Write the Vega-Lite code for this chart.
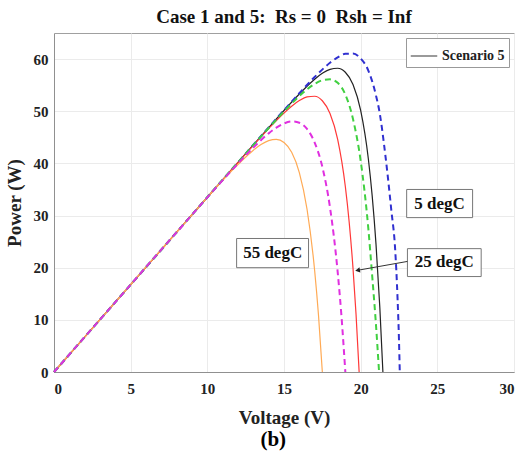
{
  "$schema": "https://vega.github.io/schema/vega-lite/v6.json",
  "autosize": {"type": "none"},
  "padding": {"left": 54, "top": 33, "right": 11, "bottom": 84},
  "width": 460,
  "height": 339,
  "background": "white",
  "title": {"text": "Case 1 and 5:\u00a0 Rs = 0\u00a0 Rsh = Inf", "font": "Liberation Serif", "fontSize": 19, "fontWeight": "bold", "color": "#111111", "offset": 6},
  "datasets": {
    "curves": [
      {"s": "C1_5", "v": 0, "p": 0}, {"s": "C1_5", "v": 4, "p": 13.4}, {"s": "C1_5", "v": 8, "p": 26.8}, {"s": "C1_5", "v": 12, "p": 40.2}, {"s": "C1_5", "v": 14, "p": 46.88}, {"s": "C1_5", "v": 15, "p": 50.2}, {"s": "C1_5", "v": 16, "p": 53.45}, {"s": "C1_5", "v": 17, "p": 56.57}, {"s": "C1_5", "v": 18, "p": 59.29}, {"s": "C1_5", "v": 18.5, "p": 60.34}, {"s": "C1_5", "v": 19, "p": 61.0}, {"s": "C1_5", "v": 19.5, "p": 61.05}, {"s": "C1_5", "v": 20, "p": 60.1}, {"s": "C1_5", "v": 20.5, "p": 57.8}, {"s": "C1_5", "v": 21, "p": 53.0}, {"s": "C1_5", "v": 21.25, "p": 49.5}, {"s": "C1_5", "v": 21.5, "p": 44.2}, {"s": "C1_5", "v": 21.75, "p": 38.0}, {"s": "C1_5", "v": 22, "p": 31.0}, {"s": "C1_5", "v": 22.25, "p": 23.5}, {"s": "C1_5", "v": 22.4, "p": 14.5}, {"s": "C1_5", "v": 22.5, "p": 6.0}, {"s": "C1_5", "v": 22.55, "p": 0},
      {"s": "Scenario 5", "v": 0, "p": 0}, {"s": "Scenario 5", "v": 4, "p": 13.4}, {"s": "Scenario 5", "v": 8, "p": 26.8}, {"s": "Scenario 5", "v": 12, "p": 40.2}, {"s": "Scenario 5", "v": 14, "p": 46.86}, {"s": "Scenario 5", "v": 15, "p": 50.14}, {"s": "Scenario 5", "v": 16, "p": 53.3}, {"s": "Scenario 5", "v": 16.5, "p": 54.78}, {"s": "Scenario 5", "v": 17, "p": 56.13}, {"s": "Scenario 5", "v": 17.5, "p": 57.26}, {"s": "Scenario 5", "v": 18, "p": 58.04}, {"s": "Scenario 5", "v": 18.5, "p": 58.24}, {"s": "Scenario 5", "v": 19, "p": 57.48}, {"s": "Scenario 5", "v": 19.5, "p": 55.13}, {"s": "Scenario 5", "v": 20, "p": 50.16}, {"s": "Scenario 5", "v": 20.5, "p": 40.88}, {"s": "Scenario 5", "v": 20.75, "p": 33.82}, {"s": "Scenario 5", "v": 21, "p": 24.52}, {"s": "Scenario 5", "v": 21.25, "p": 12.35}, {"s": "Scenario 5", "v": 21.45, "p": 0},
      {"s": "C1_25", "v": 0, "p": 0}, {"s": "C1_25", "v": 4, "p": 13.4}, {"s": "C1_25", "v": 8, "p": 26.8}, {"s": "C1_25", "v": 12, "p": 40.2}, {"s": "C1_25", "v": 14, "p": 46.78}, {"s": "C1_25", "v": 15, "p": 49.96}, {"s": "C1_25", "v": 16, "p": 52.9}, {"s": "C1_25", "v": 16.5, "p": 54.17}, {"s": "C1_25", "v": 17, "p": 55.23}, {"s": "C1_25", "v": 17.5, "p": 55.94}, {"s": "C1_25", "v": 18, "p": 56.11}, {"s": "C1_25", "v": 18.5, "p": 55.44}, {"s": "C1_25", "v": 19, "p": 53.2}, {"s": "C1_25", "v": 19.5, "p": 48.5}, {"s": "C1_25", "v": 20, "p": 40.5}, {"s": "C1_25", "v": 20.5, "p": 27.5}, {"s": "C1_25", "v": 20.75, "p": 18.5}, {"s": "C1_25", "v": 21, "p": 9}, {"s": "C1_25", "v": 21.2, "p": 0},
      {"s": "S5_25", "v": 0, "p": 0}, {"s": "S5_25", "v": 4, "p": 13.4}, {"s": "S5_25", "v": 8, "p": 26.8}, {"s": "S5_25", "v": 12, "p": 40.17}, {"s": "S5_25", "v": 13, "p": 43.47}, {"s": "S5_25", "v": 14, "p": 46.68}, {"s": "S5_25", "v": 15, "p": 49.67}, {"s": "S5_25", "v": 15.5, "p": 50.97}, {"s": "S5_25", "v": 16, "p": 52.05}, {"s": "S5_25", "v": 16.5, "p": 52.76}, {"s": "S5_25", "v": 17, "p": 52.87}, {"s": "S5_25", "v": 17.5, "p": 52.01}, {"s": "S5_25", "v": 18, "p": 49.58}, {"s": "S5_25", "v": 18.5, "p": 44.62}, {"s": "S5_25", "v": 19, "p": 35.57}, {"s": "S5_25", "v": 19.25, "p": 28.77}, {"s": "S5_25", "v": 19.5, "p": 19.92}, {"s": "S5_25", "v": 19.7, "p": 10.97}, {"s": "S5_25", "v": 19.9, "p": 0},
      {"s": "C1_55", "v": 0, "p": 0}, {"s": "C1_55", "v": 4, "p": 13.4}, {"s": "C1_55", "v": 8, "p": 26.8}, {"s": "C1_55", "v": 12, "p": 39.97}, {"s": "C1_55", "v": 13, "p": 43.04}, {"s": "C1_55", "v": 14, "p": 45.75}, {"s": "C1_55", "v": 14.5, "p": 46.84}, {"s": "C1_55", "v": 15, "p": 47.65}, {"s": "C1_55", "v": 15.5, "p": 48.04}, {"s": "C1_55", "v": 16, "p": 47.79}, {"s": "C1_55", "v": 16.5, "p": 46.6}, {"s": "C1_55", "v": 17, "p": 44.0}, {"s": "C1_55", "v": 17.5, "p": 39.33}, {"s": "C1_55", "v": 18, "p": 31.55}, {"s": "C1_55", "v": 18.5, "p": 19.18}, {"s": "C1_55", "v": 18.75, "p": 10.62}, {"s": "C1_55", "v": 19, "p": 0},
      {"s": "S5_55", "v": 0, "p": 0}, {"s": "S5_55", "v": 4, "p": 13.4}, {"s": "S5_55", "v": 8, "p": 26.8}, {"s": "S5_55", "v": 12, "p": 39.79}, {"s": "S5_55", "v": 13, "p": 42.53}, {"s": "S5_55", "v": 13.5, "p": 43.61}, {"s": "S5_55", "v": 14, "p": 44.36}, {"s": "S5_55", "v": 14.5, "p": 44.59}, {"s": "S5_55", "v": 15, "p": 43.99}, {"s": "S5_55", "v": 15.5, "p": 42.12}, {"s": "S5_55", "v": 16, "p": 38.24}, {"s": "S5_55", "v": 16.5, "p": 31.25}, {"s": "S5_55", "v": 17, "p": 19.41}, {"s": "S5_55", "v": 17.25, "p": 10.87}, {"s": "S5_55", "v": 17.5, "p": 0}
    ],
    "notes": [
      {"t": "5 degC", "v": 25.15, "p": 32.3, "x1": 23.0, "x2": 27.3, "y1": 29.6, "y2": 35.0},
      {"t": "25 degC", "v": 25.45, "p": 21.0, "x1": 23.05, "x2": 27.86, "y1": 18.3, "y2": 23.65},
      {"t": "55 degC", "v": 14.26, "p": 22.8, "x1": 11.91, "x2": 16.6, "y1": 20.0, "y2": 25.6}
    ],
    "arrow": [
      {"v": 23.05, "p": 21.2, "v2": 19.8, "p2": 19.5}
    ]
  },
  "layer": [
    {
      "data": {"name": "curves"},
      "transform": [{"filter": {"field": "s", "oneOf": ["Scenario 5", "S5_25", "S5_55"]}}],
      "mark": {"type": "line", "strokeWidth": 1.2, "interpolate": "monotone"},
      "encoding": {
        "x": {"field": "v", "type": "quantitative", "scale": {"domain": [0, 30], "nice": false}, "axis": {"values": [0, 5, 10, 15, 20, 25, 30], "title": "Voltage (V)", "labelPadding": 9, "titlePadding": 12}},
        "y": {"field": "p", "type": "quantitative", "scale": {"domain": [0, 65], "nice": false}, "axis": {"values": [0, 10, 20, 30, 40, 50, 60], "title": "Power (W)", "labelPadding": 6, "titlePadding": 9}},
        "color": {"field": "s", "type": "nominal", "scale": {"domain": ["C1_5", "Scenario 5", "C1_25", "S5_25", "C1_55", "S5_55"], "range": ["#3030d0", "#222222", "#40d040", "#ff3838", "#e030e0", "#ffaa55"]},
          "legend": {"values": ["Scenario 5"], "title": null, "orient": "top-right", "offset": 5, "symbolType": "stroke", "symbolSize": 700, "symbolStrokeWidth": 1, "symbolDash": [1, 0], "labelFont": "Liberation Serif", "labelFontWeight": "bold", "labelFontSize": 14, "labelColor": "#222222", "strokeColor": "#999999", "fillColor": "white", "padding": 4, "cornerRadius": 0}}
      }
    },
    {
      "data": {"name": "curves"},
      "transform": [{"filter": {"field": "s", "oneOf": ["C1_5", "C1_25", "C1_55"]}}],
      "mark": {"type": "line", "strokeWidth": 2, "strokeDash": [6, 4], "interpolate": "monotone"},
      "encoding": {
        "x": {"field": "v", "type": "quantitative"},
        "y": {"field": "p", "type": "quantitative"},
        "color": {"field": "s", "type": "nominal"}
      }
    },
    {
      "data": {"name": "notes"},
      "mark": {"type": "rect", "fill": "white", "stroke": "#777777", "strokeWidth": 1},
      "encoding": {
        "x": {"field": "x1", "type": "quantitative"},
        "x2": {"field": "x2"},
        "y": {"field": "y1", "type": "quantitative"},
        "y2": {"field": "y2"}
      }
    },
    {
      "data": {"name": "notes"},
      "mark": {"type": "text", "font": "Liberation Serif", "fontWeight": "bold", "fontSize": 17, "color": "#111111"},
      "encoding": {
        "x": {"field": "v", "type": "quantitative"},
        "y": {"field": "p", "type": "quantitative"},
        "text": {"field": "t"}
      }
    },
    {
      "data": {"name": "arrow"},
      "mark": {"type": "rule", "color": "#333333", "strokeWidth": 1},
      "encoding": {
        "x": {"field": "v", "type": "quantitative"},
        "y": {"field": "p", "type": "quantitative"},
        "x2": {"field": "v2"},
        "y2": {"field": "p2"}
      }
    },
    {
      "data": {"name": "arrow"},
      "mark": {"type": "point", "shape": "triangle-left", "filled": true, "color": "#222222", "size": 30, "angle": 350, "opacity": 1},
      "encoding": {
        "x": {"field": "v2", "type": "quantitative"},
        "y": {"field": "p2", "type": "quantitative"}
      }
    },
    {
      "data": {"values": [{}]},
      "mark": {"type": "text", "font": "Liberation Serif", "fontWeight": "bold", "fontSize": 21, "color": "#000000"},
      "encoding": {
        "x": {"datum": 14.3},
        "y": {"datum": -13.1},
        "text": {"value": "(b)"}
      }
    }
  ],
  "config": {
    "view": {"stroke": "#a0a0a0"},
    "axis": {"grid": true, "gridColor": "#ebebeb", "domainColor": "#909090", "ticks": false, "labelFont": "Liberation Serif", "labelFontWeight": "bold", "labelFontSize": 15, "labelColor": "#222222", "titleFont": "Liberation Serif", "titleFontWeight": "bold", "titleFontSize": 19, "titleColor": "#222222"}
  }
}
